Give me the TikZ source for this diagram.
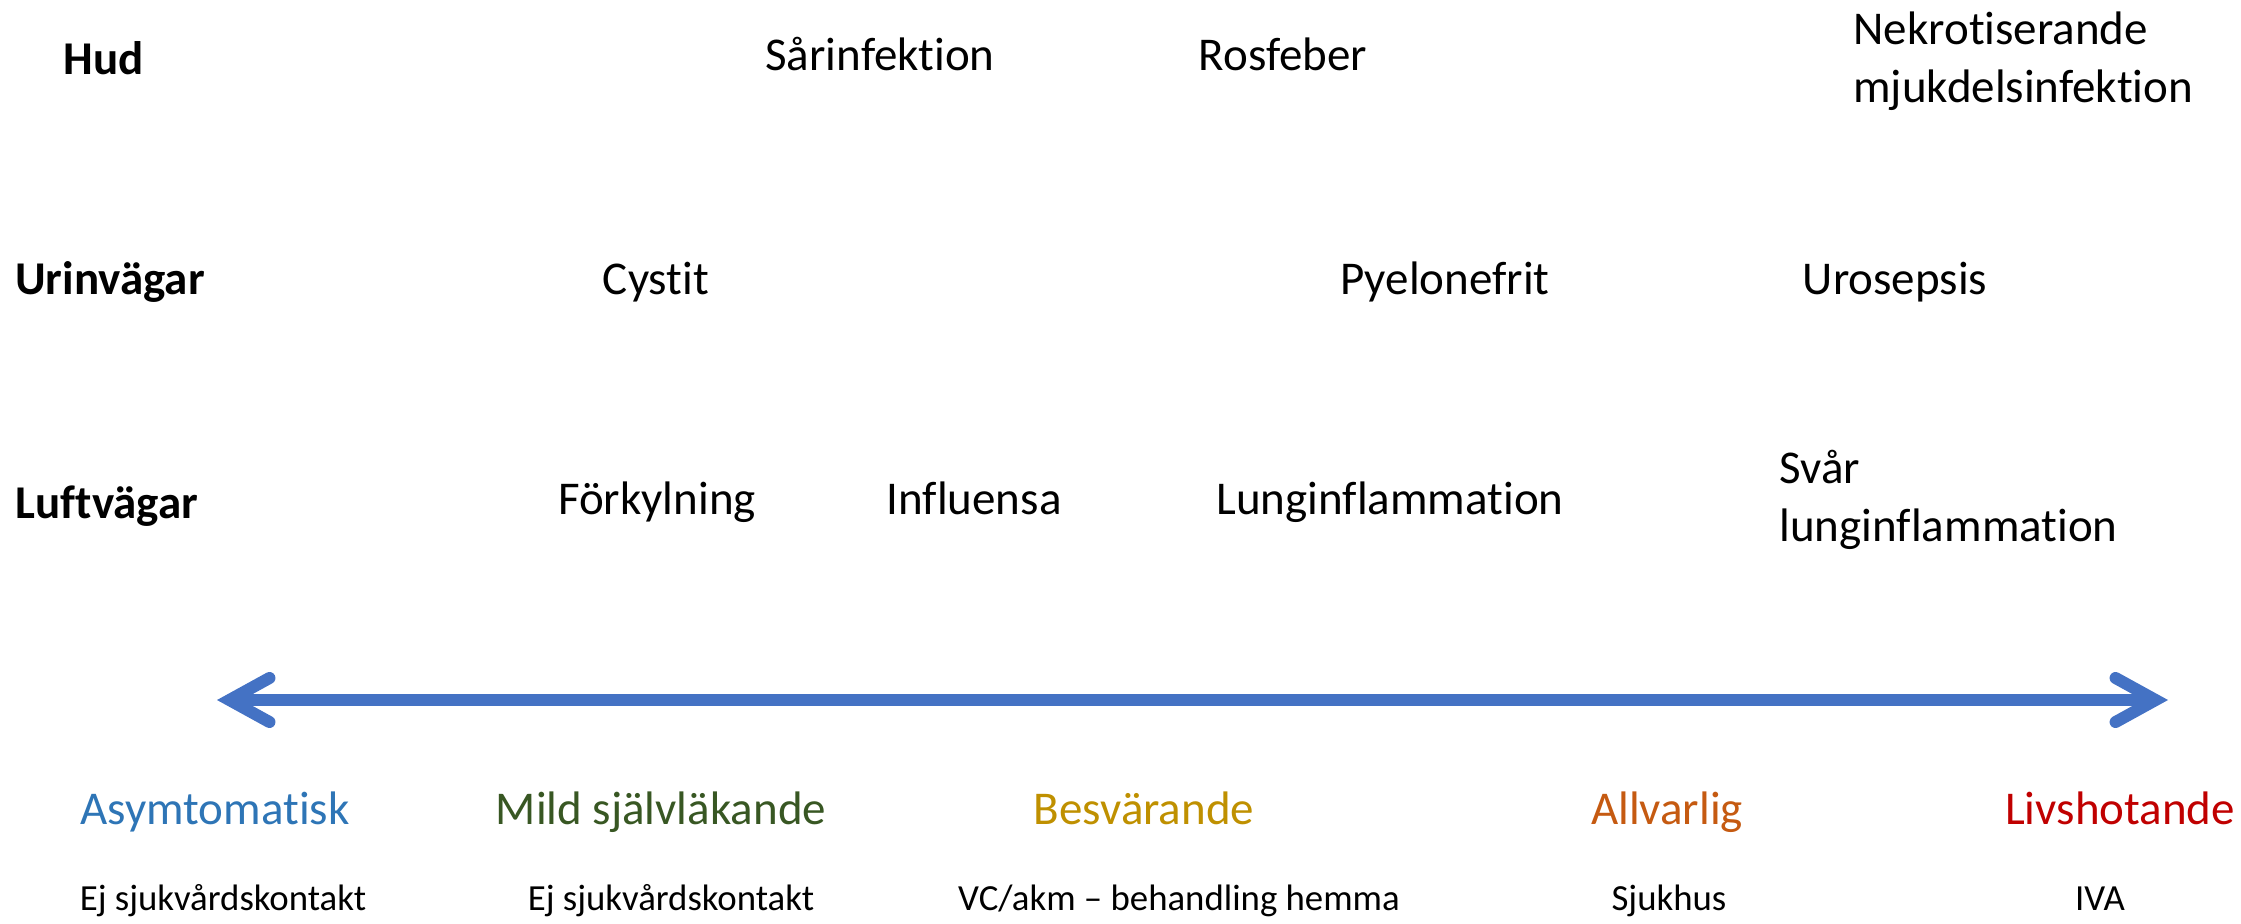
\documentclass[tikz,border=0pt]{standalone}
\usepackage{fontspec}
\setmainfont{Carlito}[Ligatures=NoCommon]
\usepackage{tikz}
\usetikzlibrary{positioning}
\usetikzlibrary{arrows.meta}

\definecolor{axisblue}{HTML}{4472C4}
\definecolor{asymblue}{HTML}{2E75B6}
\definecolor{mildgreen}{HTML}{385723}
\definecolor{besvgold}{HTML}{BF9000}
\definecolor{allvorange}{HTML}{C55A11}
\definecolor{livsred}{HTML}{C00000}

\begin{document}
\begin{tikzpicture}[x=0.5pt, y=-0.5pt,
                          rowlabel/.style={anchor=base, inner sep=0pt, font=\fontsize{23.5}{29}\selectfont\bfseries},
                          disease/.style={anchor=base, inner sep=0pt, font=\fontsize{23.5}{29}\selectfont},
                          twoline/.style={anchor=base west, inner sep=0pt, align=left, font=\fontsize{23.5}{29}\selectfont},
                          severity/.style={anchor=base, inner sep=0pt, font=\fontsize{23.5}{29}\selectfont},
                          care/.style={anchor=base, inner sep=0pt, font=\fontsize{18.4}{22}\selectfont},
                          axis/.style={draw=axisblue, line width=6pt, {Straight Barb[length=20pt, width=22pt, line cap=round]}-{Straight Barb[length=20pt, width=22pt, line cap=round]}},
                      ]
                      \useasboundingbox (0,0) rectangle (2241,923);

                      %Nodes
                      \node[rowlabel]   (hud)     at (104,74)   {Hud};
                      \node[rowlabel]   (urin)    at (110,294)  {Urinvägar};
                      \node[rowlabel]   (luft)    at (107,518)  {Luftvägar};

                      \node[disease]    (sar)     at (880,70)   {Sårinfektion};
                      \node[disease]    (ros)     at (1283,70)  {Rosfeber};
                      \node[twoline]    (nekro)   at (1853,102) {Nekrotiserande\\mjukdelsinfektion};

                      \node[disease]    (cystit)  at (656,294)  {Cystit};
                      \node[disease]    (pyelo)   at (1445,294) {Pyelonefrit};
                      \node[disease]    (uro)     at (1895,294) {Urosepsis};

                      \node[disease]    (fork)    at (657,514)  {Förkylning};
                      \node[disease]    (infl)    at (974,514)  {Influensa};
                      \node[disease]    (lung)    at (1390,514) {Lunginflammation};
                      \node[twoline]    (svar)    at (1779,541) {Svår\\lunginflammation};

                      \coordinate       (mild_end)   at (217,700);
                      \coordinate       (severe_end) at (2168,700);

                      \node[severity, text=asymblue]   (asym)  at (215,824)  {Asymtomatisk};
                      \node[severity, text=mildgreen]  (mild)  at (661,824)  {Mild självläkande};
                      \node[severity, text=besvgold]   (besv)  at (1144,824) {Besvärande};
                      \node[severity, text=allvorange] (allv)  at (1667,824) {Allvarlig};
                      \node[severity, text=livsred]    (livs)  at (2120,824) {Livshotande};

                      \node[care]       (asym_care)  at (223,910)  {Ej sjukvårdskontakt};
                      \node[care]       (mild_care)  at (671,910)  {Ej sjukvårdskontakt};
                      \node[care]       (besv_care)  at (1179,910) {VC/akm – behandling hemma};
                      \node[care]       (allv_care)  at (1669,910) {Sjukhus};
                      \node[care]       (livs_care)  at (2100,910) {IVA};

                      %Lines
                      \draw[axis] (mild_end) -- (severe_end);
                  \end{tikzpicture}
\end{document}
